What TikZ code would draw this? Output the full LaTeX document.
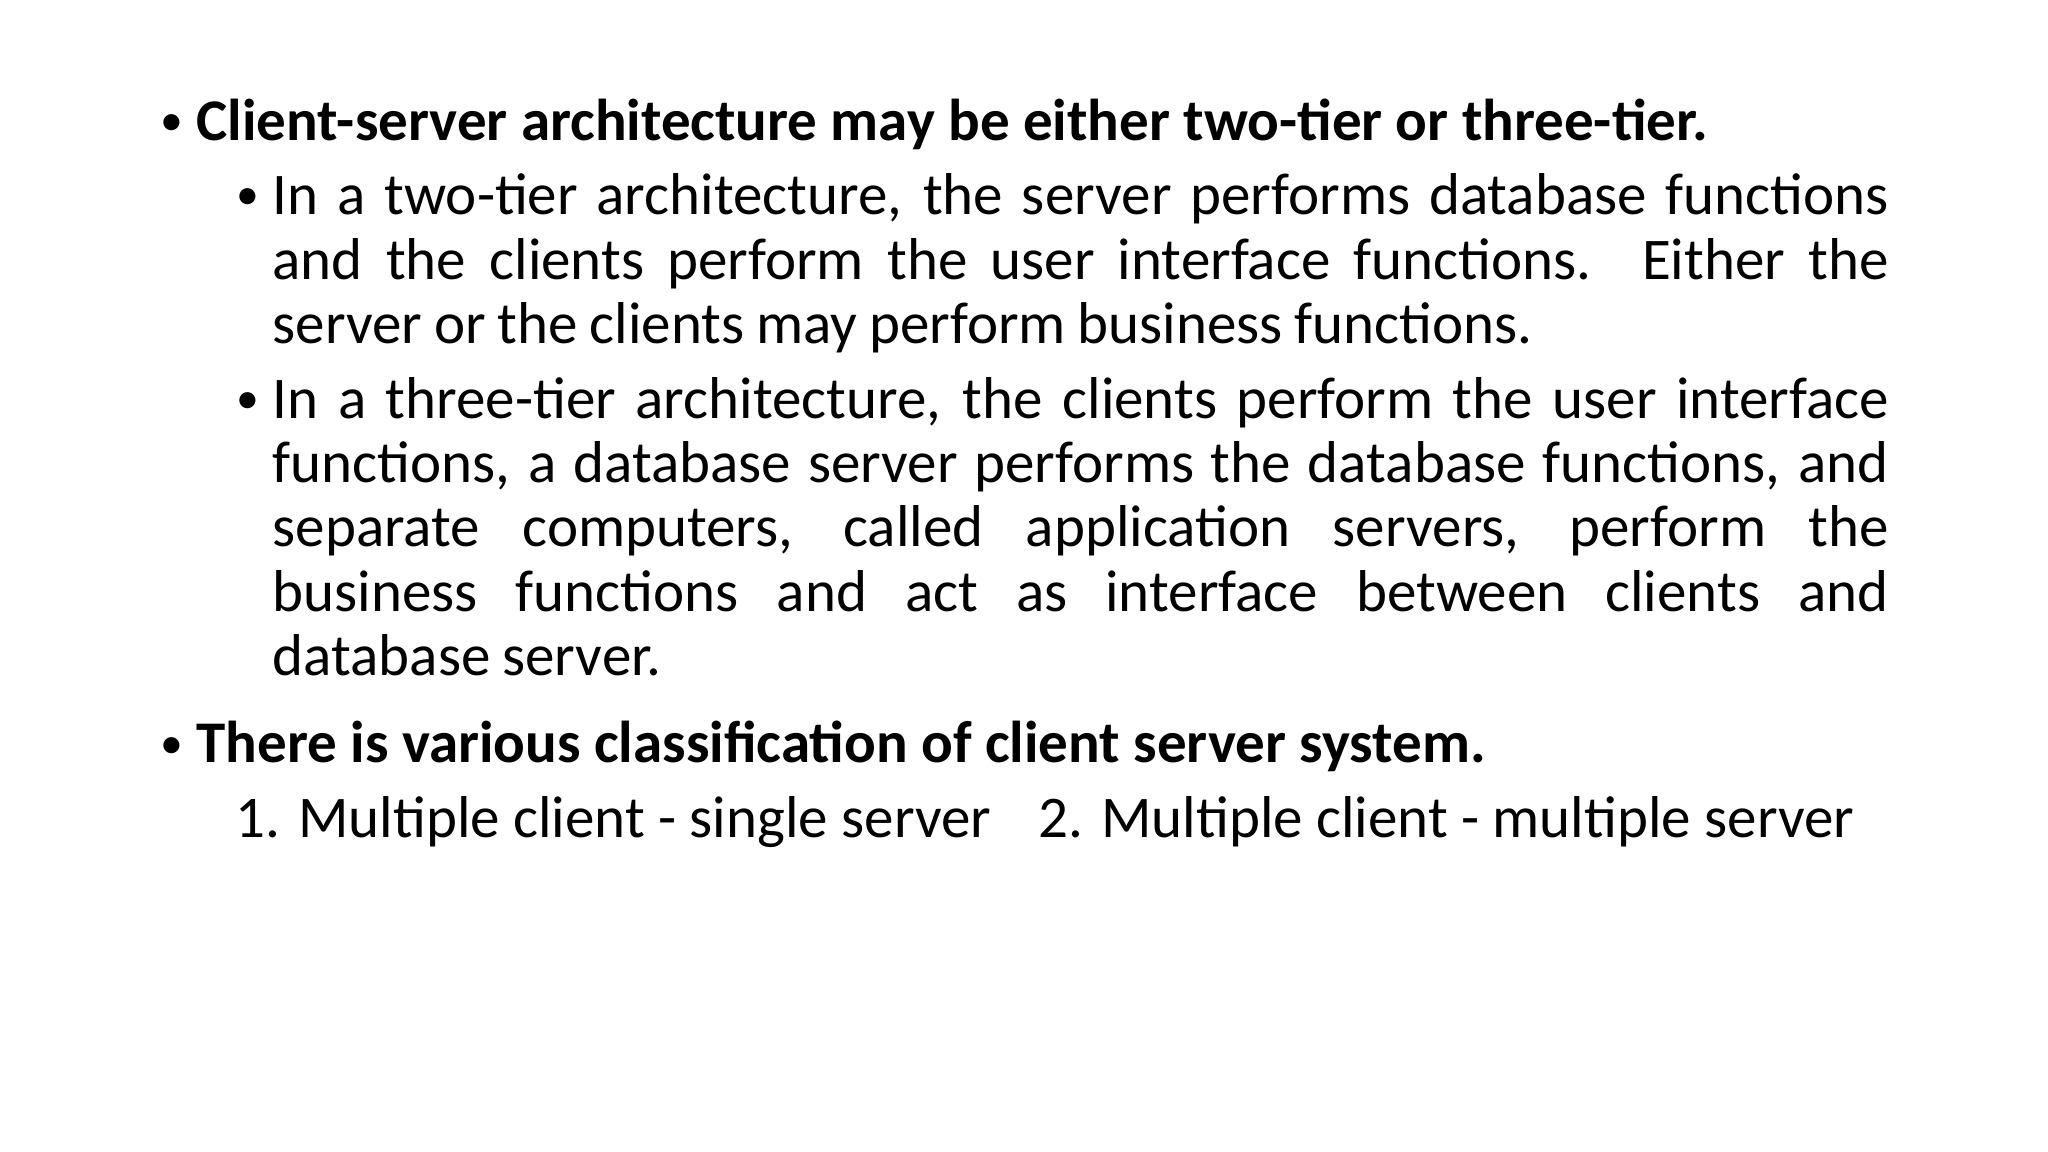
\documentclass[tikz,border=0pt]{standalone}
\usepackage{fontspec}
\setmainfont{Carlito}
\newcommand{\nohyph}{\hyphenpenalty=10000\relax\exhyphenpenalty=10000\relax\spaceskip=0.2em plus 1em minus 0.08em\relax}
\begin{document}
\begin{tikzpicture}[x=1cm,y=-1cm,
  txt/.style={anchor=base west,inner sep=0pt,font=\fontsize{16.8}{18.3}\selectfont},
  bul/.style={anchor=base west,inner sep=0pt,font=\fontsize{13}{16}\selectfont},
  para/.style={anchor=north west,inner sep=0pt,text width=16.16cm,align=justify,font=\fontsize{16.8}{18.3}\selectfont}]
\useasboundingbox[fill=white] (0,0) rectangle (20.48,11.52);
\node[bul] (b1) at (1.60,1.36) {•};
\node[txt] (t1) at (1.96,1.41) {\bfseries Client-server architecture may be either two-tier or three-tier.};
\node[bul] (s1) at (2.36,2.10) {•};
\node[para] (p1) at (2.72,1.73) {\nohyph In a two-tier architecture, the server performs database functions\linebreak and the clients perform the user interface functions. Either the\linebreak server or the clients may perform business functions.};
\node[bul] (s2) at (2.36,4.14) {•};
\node[para] (p2) at (2.72,3.765) {\nohyph In a three-tier architecture, the clients perform the user interface\linebreak functions, a database server performs the database functions, and\linebreak separate computers, called application servers, perform the\linebreak business functions and act as interface between clients and\linebreak database server.};
\node[bul] (b2) at (1.60,7.58) {•};
\node[txt] (t2) at (1.96,7.63) {\bfseries There is various classification of client server system.};
\node[txt] (n1) at (2.35,8.38) {1. Multiple client - single server\hspace{0.8em}2. Multiple client - multiple server};
\end{tikzpicture}
\end{document}
